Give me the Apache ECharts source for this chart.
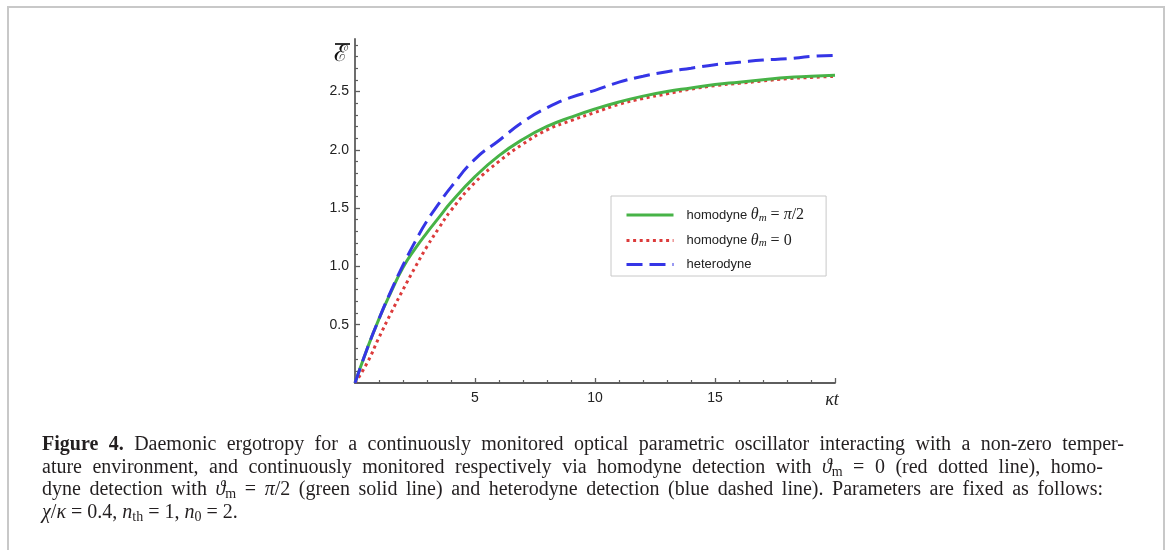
<!DOCTYPE html>
<html>
<head>
<meta charset="utf-8">
<script src="https://cdn.jsdelivr.net/npm/echarts@6.0.0/dist/echarts.min.js"></script>
<style>
  html, body { margin: 0; padding: 0; background: #fff; }
  body { width: 1167px; height: 550px; position: relative; overflow: hidden; }
  .frame {
    position: absolute; left: 7px; top: 6px; width: 1154px; height: 600px;
    border: 2px solid #c8c8c8; border-bottom: none;
  }
  #chart { position: absolute; left: 0; top: 0; width: 1167px; height: 550px; }
  #caption {
    position: absolute; left: 42px; top: 432px;
    font-family: "Liberation Serif", "DejaVu Serif", serif;
    font-size: 20px; line-height: 22.6px; color: #231f20;
  }
  #caption .ln { white-space: nowrap; }
  #caption .j { text-align: justify; text-align-last: justify; white-space: normal; }
  #caption i { font-style: italic; }
  #caption sub { font-size: 14px; vertical-align: -3px; line-height: 0; }
</style>
</head>
<body>
<div class="frame"></div>
<div id="chart"></div>
<div id="caption">
  <div class="ln j" style="width:1082px"><b>Figure 4.</b> Daemonic ergotropy for a continuously monitored optical parametric oscillator interacting with a non-zero temper-</div>
  <div class="ln j" style="width:1061px">ature environment, and continuously monitored respectively via homodyne detection with <i>ϑ</i><sub>m</sub> = 0 (red dotted line), homo-</div>
  <div class="ln j" style="width:1061px">dyne detection with <i>ϑ</i><sub>m</sub> = <i>π</i>/2 (green solid line) and heterodyne detection (blue dashed line). Parameters are fixed as follows:</div>
  <div class="ln"><i>χ</i>/<i>κ</i> = 0.4, <i>n</i><sub>th</sub> = 1, <i>n</i><sub>0</sub> = 2.</div>
</div>
<script>
// time axis (kappa t)
var kt = [0, 0.5, 1, 1.5, 2, 2.5, 3, 3.5, 4, 5, 6, 7, 8, 9, 10, 11, 12, 13, 14, 15, 16, 17, 18, 19, 20]
// homodyne theta_m = pi/2 (green solid)
var homodynePi2 = [0, 0.29, 0.55, 0.78, 0.99, 1.15, 1.29, 1.42, 1.55, 1.77, 1.95, 2.09, 2.20, 2.28, 2.35, 2.41, 2.46, 2.50, 2.53, 2.56, 2.58, 2.60, 2.62, 2.63, 2.64]
// homodyne theta_m = 0 (red dotted)
var homodyne0 = [0, 0.17, 0.39, 0.60, 0.80, 0.99, 1.17, 1.33, 1.48, 1.72, 1.90, 2.05, 2.17, 2.25, 2.32, 2.39, 2.44, 2.48, 2.52, 2.55, 2.57, 2.59, 2.61, 2.62, 2.63]
// heterodyne (blue dashed)
var heterodyne = [0, 0.29, 0.55, 0.79, 1.01, 1.21, 1.39, 1.54, 1.68, 1.92, 2.08, 2.24, 2.36, 2.45, 2.51, 2.58, 2.63, 2.67, 2.70, 2.73, 2.75, 2.77, 2.78, 2.80, 2.81]
var yTicks = [0.5, 1, 1.5, 2, 2.5]
var xTicks = [5, 10, 15, 20]

function pairs (ys) {
  return kt.map(function (x, i) { return [x, ys[i]] })
}

var axisGray = '#5e5e5e'
var mathRich = {
  t: { fontFamily: 'Liberation Serif, serif', fontStyle: 'italic', fontSize: 16, color: '#222' },
  s: { fontFamily: 'Liberation Serif, serif', fontStyle: 'italic', fontSize: 11, color: '#222', padding: [6, 0, 0, 0] },
  r: { fontFamily: 'Liberation Serif, serif', fontSize: 16, color: '#222' }
}

var option = {
  animation: false,
  grid: { left: 355, right: 332, top: 39, bottom: 167 },
  xAxis: {
    type: 'value',
    min: 0,
    max: 20,
    interval: 5,
    axisLine: { lineStyle: { color: axisGray, width: 1.8 } },
    axisTick: { inside: true, length: 5, lineStyle: { color: axisGray, width: 1.3 } },
    minorTick: { show: true, splitNumber: 5, length: 3, lineStyle: { color: axisGray, width: 1.2 } },
    splitLine: { show: false },
    axisLabel: {
      margin: 8,
      fontFamily: 'Liberation Sans, Arial, sans-serif',
      fontSize: 14,
      color: '#222',
      formatter: function (v) {
        if (v === 20) return '{k|κt}'
        if (xTicks.indexOf(v) < 0) return ''
        return String(v)
      },
      rich: { k: { fontFamily: 'Liberation Serif, serif', fontStyle: 'italic', fontSize: 18, color: '#222', padding: [0, 6, 0, 0] } }
    }
  },
  yAxis: {
    type: 'value',
    min: 0,
    max: 2.95,
    interval: 0.5,
    axisLine: { show: true, lineStyle: { color: axisGray, width: 1.8 } },
    axisTick: { inside: true, length: 5, customValues: yTicks, lineStyle: { color: axisGray, width: 1.3 } },
    minorTick: { show: true, splitNumber: 5, length: 3, lineStyle: { color: axisGray, width: 1.2 } },
    splitLine: { show: false },
    axisLabel: {
      margin: 6,
      customValues: yTicks,
      fontFamily: 'Liberation Sans, Arial, sans-serif',
      fontSize: 14,
      color: '#222',
      formatter: function (v) {
        if (v === 0 || Math.abs(v * 2 - Math.round(v * 2)) > 1e-6) return ''
        return v.toFixed(1)
      }
    }
  },
  legend: {
    orient: 'vertical',
    left: 611,
    top: 196,
    padding: [11, 22, 5, 14],
    itemGap: 9,
    itemWidth: 47,
    itemHeight: 14,
    borderColor: '#c8c8c8',
    borderWidth: 1,
    backgroundColor: '#fff',
    itemStyle: { opacity: 0 },
    lineStyle: { width: 3 },
    textStyle: {
      fontFamily: 'Liberation Sans, Arial, sans-serif',
      fontSize: 13,
      color: '#222',
      padding: [0, 0, 0, 8],
      rich: mathRich
    },
    data: ['pi2', 'zero', 'het'],
    formatter: function (name) {
      if (name === 'pi2') return 'homodyne {t|θ}{s|m}{r| = }{t|π}{r|/2}'
      if (name === 'zero') return 'homodyne {t|θ}{s|m}{r| = 0}'
      return 'heterodyne'
    }
  },
  graphic: [
    { type: 'line', shape: { x1: 335, y1: 44, x2: 350, y2: 44 }, style: { stroke: '#111', lineWidth: 1.7 } },
    { type: 'text', left: 334, top: 44, style: { text: 'ℰ', font: '23px "DejaVu Serif", serif', fill: '#111' } }
  ],
  series: [
    {
      name: 'pi2',
      type: 'line',
      data: pairs(homodynePi2),
      smooth: true,
      symbol: 'none',
      z: 3,
      lineStyle: { color: '#47b347', width: 3 },
      itemStyle: { color: '#47b347' }
    },
    {
      name: 'zero',
      type: 'line',
      data: pairs(homodyne0),
      smooth: true,
      symbol: 'none',
      z: 2,
      lineStyle: { color: '#dc3b3b', width: 3, type: [3, 3.6] },
      itemStyle: { color: '#dc3b3b' }
    },
    {
      name: 'het',
      type: 'line',
      data: pairs(heterodyne),
      smooth: true,
      symbol: 'none',
      z: 4,
      lineStyle: { color: '#3535e6', width: 3, type: [16, 7] },
      itemStyle: { color: '#3535e6' }
    }
  ]
}

var chart = echarts.init(document.getElementById('chart'), null, { renderer: 'canvas' })
chart.setOption(option)
</script>
</body>
</html>
